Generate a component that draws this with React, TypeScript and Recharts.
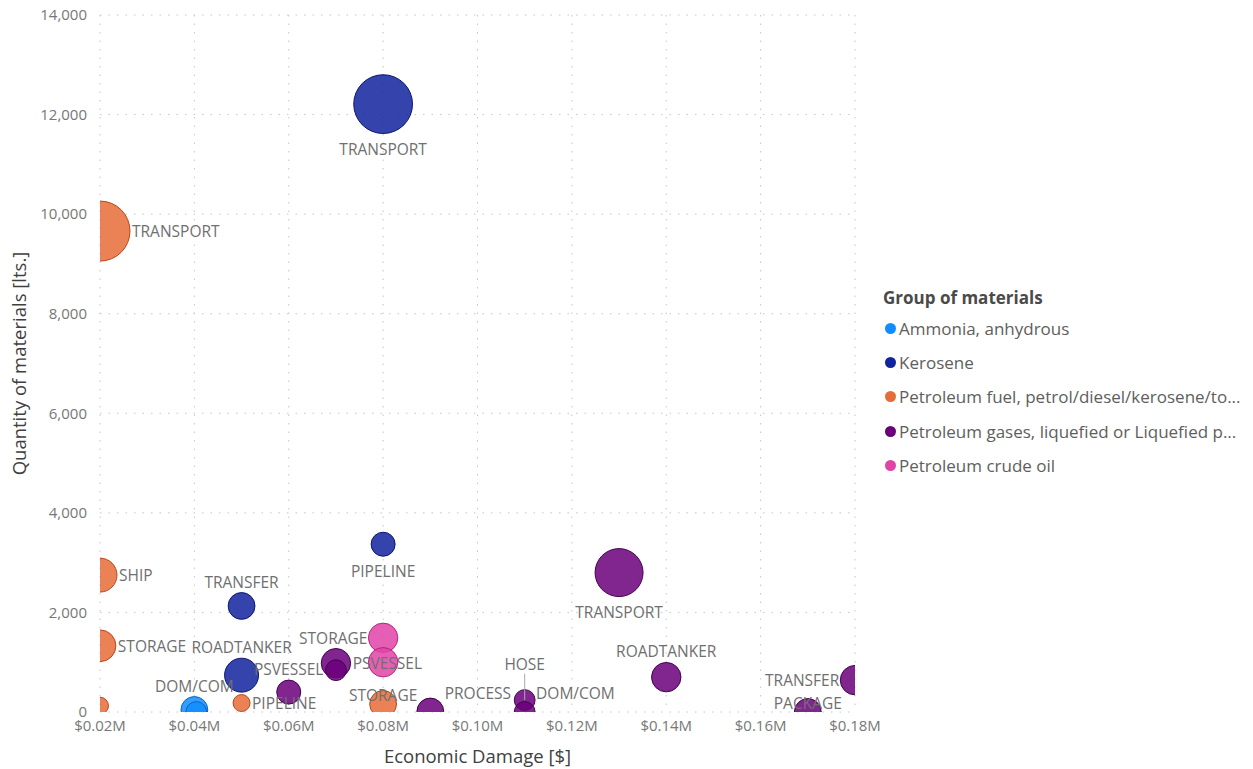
import { CartesianGrid, Scatter, ScatterChart, XAxis, YAxis, ZAxis } from "recharts"

type Incident = { damage: number; quantity: number; incidents: number; label: string }

// Economic damage in $, quantity in litres, incidents drive the bubble size
const ammonia: Incident[] = [
	{ damage: 40000, quantity: 40, incidents: 5, label: "DOM/COM" },
	{ damage: 40400, quantity: 0, incidents: 3, label: "" },
]

const kerosene: Incident[] = [
	{ damage: 80000, quantity: 12210, incidents: 24, label: "TRANSPORT" },
	{ damage: 80000, quantity: 3370, incidents: 4, label: "PIPELINE" },
	{ damage: 50000, quantity: 2130, incidents: 5, label: "TRANSFER" },
	{ damage: 50000, quantity: 740, incidents: 8, label: "ROADTANKER" },
]

const petroleumFuel: Incident[] = [
	{ damage: 20000, quantity: 9660, incidents: 25, label: "TRANSPORT" },
	{ damage: 20000, quantity: 2750, incidents: 8, label: "SHIP" },
	{ damage: 20000, quantity: 1330, incidents: 7, label: "STORAGE" },
	{ damage: 20000, quantity: 125, incidents: 2, label: "" },
	{ damage: 50000, quantity: 180, incidents: 2, label: "PIPELINE" },
	{ damage: 80000, quantity: 160, incidents: 5, label: "STORAGE" },
]

const petroleumGases: Incident[] = [
	{ damage: 130000, quantity: 2800, incidents: 16, label: "TRANSPORT" },
	{ damage: 140000, quantity: 700, incidents: 6, label: "ROADTANKER" },
	{ damage: 180000, quantity: 640, incidents: 6, label: "TRANSFER" },
	{ damage: 170000, quantity: 0, incidents: 5, label: "PACKAGE" },
	{ damage: 60000, quantity: 400, incidents: 4, label: "PSVESSEL" },
	{ damage: 70000, quantity: 980, incidents: 6, label: "PSVESSEL" },
	{ damage: 70000, quantity: 840, incidents: 3, label: "" },
	{ damage: 90000, quantity: 10, incidents: 5, label: "PROCESS" },
	{ damage: 110000, quantity: 240, incidents: 3, label: "HOSE" },
	{ damage: 110000, quantity: 0, incidents: 3, label: "DOM/COM" },
]

const crudeOil: Incident[] = [
	{ damage: 80000, quantity: 1490, incidents: 6, label: "STORAGE" },
	{ damage: 80000, quantity: 1000, incidents: 6, label: "" },
]

const damageTicks = [20000, 40000, 60000, 80000, 100000, 120000, 140000, 160000, 180000]
const quantityTicks = [0, 2000, 4000, 6000, 8000, 10000, 12000, 14000]

// where each point's label sits, in the same order as the arrays above
type Place = "above" | "below" | "left" | "right" | "over" | "upperRight" | "leader" | "none"
const ammoniaPlace: Place[] = ["above", "none"]
const kerosenePlace: Place[] = ["below", "below", "above", "above"]
const fuelPlace: Place[] = ["right", "right", "right", "none", "right", "over"]
const gasesPlace: Place[] = ["below", "above", "left", "over", "above", "right", "none", "upperRight", "leader", "upperRight"]
const crudePlace: Place[] = ["left", "none"]

const series = [
	{ name: "Ammonia, anhydrous", color: "#118DFF", stroke: "#0a64c4", points: ammonia, place: ammoniaPlace },
	{ name: "Kerosene", color: "#12239E", stroke: "#0b1670", points: kerosene, place: kerosenePlace },
	{ name: "Petroleum fuel, petrol/diesel/kerosene/to...", color: "#E66C37", stroke: "#b8461a", points: petroleumFuel, place: fuelPlace },
	{ name: "Petroleum gases, liquefied or Liquefied p...", color: "#6B007B", stroke: "#43004e", points: petroleumGases, place: gasesPlace },
	{ name: "Petroleum crude oil", color: "#E044A7", stroke: "#b8247f", points: crudeOil, place: crudePlace },
]

const labelPoints = series.flatMap((s) => s.points.map((p, i) => ({ ...p, place: s.place[i] }))).filter((p) => p.place !== "none")

const font = "'Segoe UI', 'Open Sans', sans-serif"
const labelColor = "#6f6f6f"

function PointLabel(props: any) {
	const { cx, cy, payload } = props
	const r = props.width ? props.width / 2 : Math.sqrt((props.size ?? 0) / Math.PI)
	const style = { fontFamily: font, fontSize: 15.5, fill: labelColor }
	const place: Place = payload.place
	let x = cx
	let y = cy
	let anchor: "start" | "middle" | "end" = "middle"
	if (place === "above") y = cy - r - 11
	if (place === "below") y = cy + r + 15
	if (place === "over") y = cy - 9
	if (place === "right") {
		x = cx + r + 2
		anchor = "start"
	}
	if (place === "left") {
		x = cx - r - 1
		anchor = "end"
	}
	if (place === "upperRight") {
		x = cx + r + 1
		y = cy - 19
		anchor = "start"
	}
	if (place === "leader") y = cy - r - 26
	return (
		<g>
			{place === "leader" && <line x1={cx} x2={cx} y1={y + 10} y2={cy} stroke="#aaaaaa" strokeWidth={1} />}
			<text x={x} y={y} textAnchor={anchor} dominantBaseline="central" style={style}>
				{payload.label}
			</text>
		</g>
	)
}

function LegendBox() {
	return (
		<div style={{ position: "absolute", left: 883, top: 287, fontFamily: font }}>
			<div style={{ fontSize: 17, lineHeight: "22px", fontWeight: 700, color: "#4a4a4a" }}>Group of materials</div>
			<div style={{ marginTop: 2 }}>
				{series.map((s) => (
					<div key={s.name} style={{ display: "flex", alignItems: "center", height: 34.3 }}>
						<span style={{ width: 11, height: 11, borderRadius: "50%", background: s.color, marginLeft: 2, marginRight: 3 }} />
						<span style={{ fontSize: 17, color: "#605E5C", whiteSpace: "nowrap" }}>{s.name}</span>
					</div>
				))}
			</div>
		</div>
	)
}

export default function App() {
	return (
		<div style={{ position: "absolute", left: 0, top: 0, width: 1253, height: 769, background: "#fff" }}>
			<ScatterChart width={1253} height={769} margin={{ top: 15, right: 398, bottom: 0, left: 0 }}>
				<CartesianGrid stroke="#c6c6c6" strokeDasharray="1.5 7" />
				<XAxis
					type="number"
					dataKey="damage"
					domain={[20000, 180000]}
					ticks={damageTicks}
					allowDataOverflow
					height={57}
					axisLine={false}
					tickLine={false}
					tickMargin={2}
					tick={{ fill: "#777777", fontSize: 15, fontFamily: font }}
					tickFormatter={(v: number) => `$${(v / 1e6).toFixed(2)}M`}
					label={{ value: "Economic Damage [$]", position: "insideBottom", offset: 6, style: { fill: "#404040", fontSize: 18.5, fontFamily: font } }}
				/>
				<YAxis
					type="number"
					dataKey="quantity"
					domain={[0, 14000]}
					ticks={quantityTicks}
					allowDataOverflow
					width={100}
					axisLine={false}
					tickLine={false}
					tickMargin={7}
					tick={{ fill: "#777777", fontSize: 15, fontFamily: font }}
					tickFormatter={(v: number) => v.toLocaleString("en-US")}
					label={{ value: "Quantity of materials [lts.]", angle: -90, position: "insideLeft", offset: 19, style: { textAnchor: "middle", fill: "#404040", fontSize: 18.5, fontFamily: font } }}
				/>
				<ZAxis type="number" dataKey="incidents" domain={[0, 25]} range={[0, 2827]} />
				{series.map((s) => (
					<Scatter
						key={s.name}
						name={s.name}
						data={s.points}
						fill={s.color}
						fillOpacity={0.85}
						stroke={s.stroke}
						strokeWidth={1}
						isAnimationActive={false}
					/>
				))}
				<Scatter name="labels" data={labelPoints} shape={PointLabel} isAnimationActive={false} legendType="none" />
			</ScatterChart>
			<LegendBox />
		</div>
	)
}
